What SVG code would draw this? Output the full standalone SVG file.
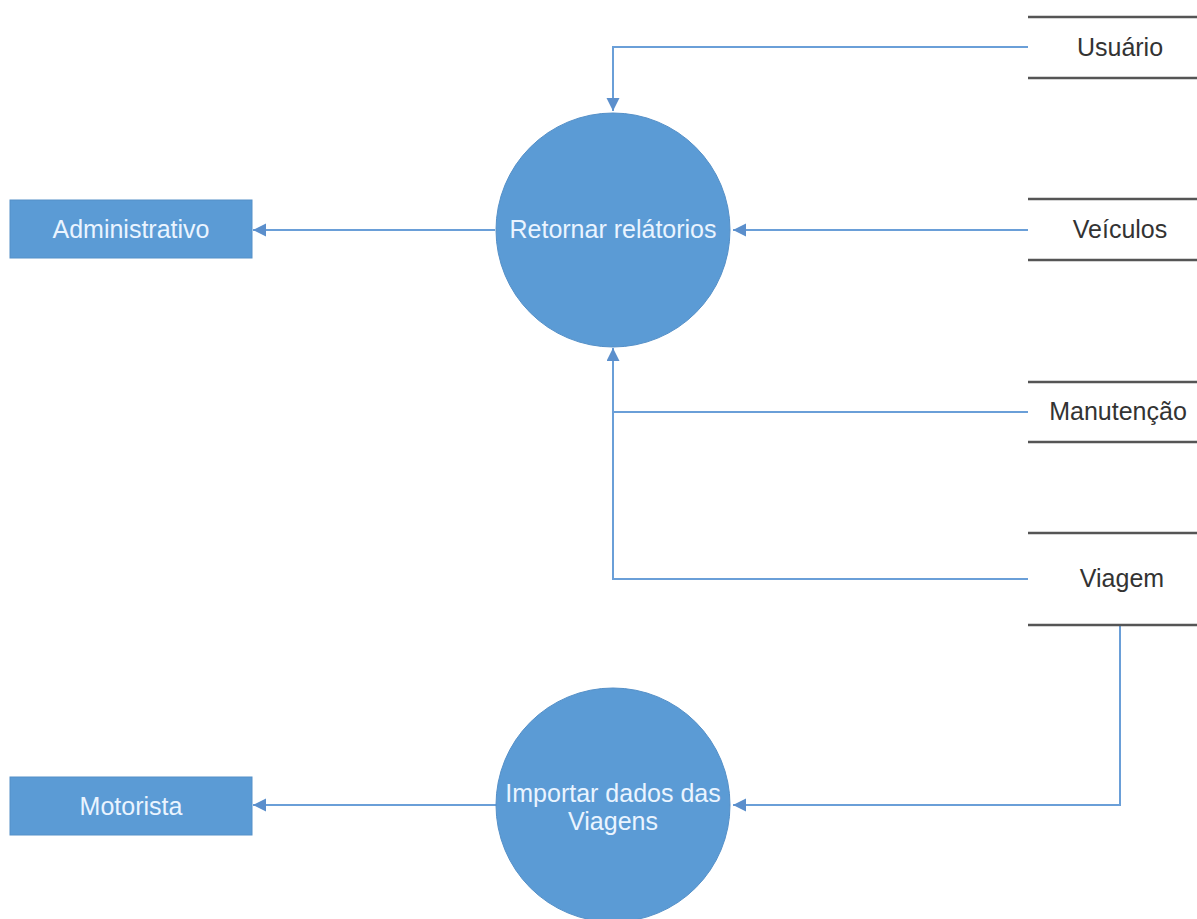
<svg xmlns="http://www.w3.org/2000/svg" width="1197" height="919" viewBox="0 0 1197 919">
<style>
.proc{fill:#5B9BD5;stroke:#5590C8;stroke-width:1}
.ptxt{font-family:"Liberation Sans",Arial,sans-serif;font-size:25px;fill:#EAF4FF;text-anchor:middle}
.stxt{font-family:"Liberation Sans",Arial,sans-serif;font-size:25px;fill:#333333;text-anchor:middle}
.store{stroke:#555555;stroke-width:2.5}
.conn{fill:none;stroke:#6A9FD8;stroke-width:2}
</style>
<defs>
<marker id="arr" markerWidth="14" markerHeight="14" refX="13" refY="6.5" orient="auto" markerUnits="userSpaceOnUse">
<path d="M0,0 L13,6.5 L0,13 z" fill="#5B8FCC"/>
</marker>
</defs>
<rect width="1197" height="919" fill="#ffffff"/>
<g id="connectors">
<path class="conn" d="M1028,47 H613 V111" marker-end="url(#arr)"/>
<path class="conn" d="M1028,230 H733" marker-end="url(#arr)"/>
<path class="conn" d="M1028,412 H613"/>
<path class="conn" d="M1028,579 H613 V348" marker-end="url(#arr)"/>
<path class="conn" d="M495,230 H253" marker-end="url(#arr)"/>
<path class="conn" d="M1120,626 V805 H733" marker-end="url(#arr)"/>
<path class="conn" d="M497,805 H253" marker-end="url(#arr)"/>
</g>
<g id="retornar">
<circle class="proc" cx="613" cy="230" r="117"/>
<text class="ptxt" x="613" y="238">Retornar relátorios</text>
</g>
<g id="importar">
<circle class="proc" cx="613" cy="805" r="117"/>
<text class="ptxt" x="613" y="802">Importar dados das</text>
<text class="ptxt" x="613" y="830">Viagens</text>
</g>
<g id="administrativo">
<rect class="proc" x="10" y="200" width="242" height="58"/>
<text class="ptxt" x="131" y="238">Administrativo</text>
</g>
<g id="motorista">
<rect class="proc" x="10" y="777" width="242" height="58"/>
<text class="ptxt" x="131" y="815">Motorista</text>
</g>
<g id="usuario">
<line class="store" x1="1028" y1="17" x2="1197" y2="17"/>
<line class="store" x1="1028" y1="78" x2="1197" y2="78"/>
<text class="stxt" x="1120" y="56">Usuário</text>
</g>
<g id="veiculos">
<line class="store" x1="1028" y1="199" x2="1197" y2="199"/>
<line class="store" x1="1028" y1="260" x2="1197" y2="260"/>
<text class="stxt" x="1120" y="238">Veículos</text>
</g>
<g id="manutencao">
<line class="store" x1="1028" y1="382" x2="1197" y2="382"/>
<line class="store" x1="1028" y1="442" x2="1197" y2="442"/>
<text class="stxt" x="1118" y="420">Manutenção</text>
</g>
<g id="viagem">
<line class="store" x1="1028" y1="533" x2="1197" y2="533"/>
<line class="store" x1="1028" y1="625" x2="1197" y2="625"/>
<text class="stxt" x="1122" y="587">Viagem</text>
</g>
</svg>
